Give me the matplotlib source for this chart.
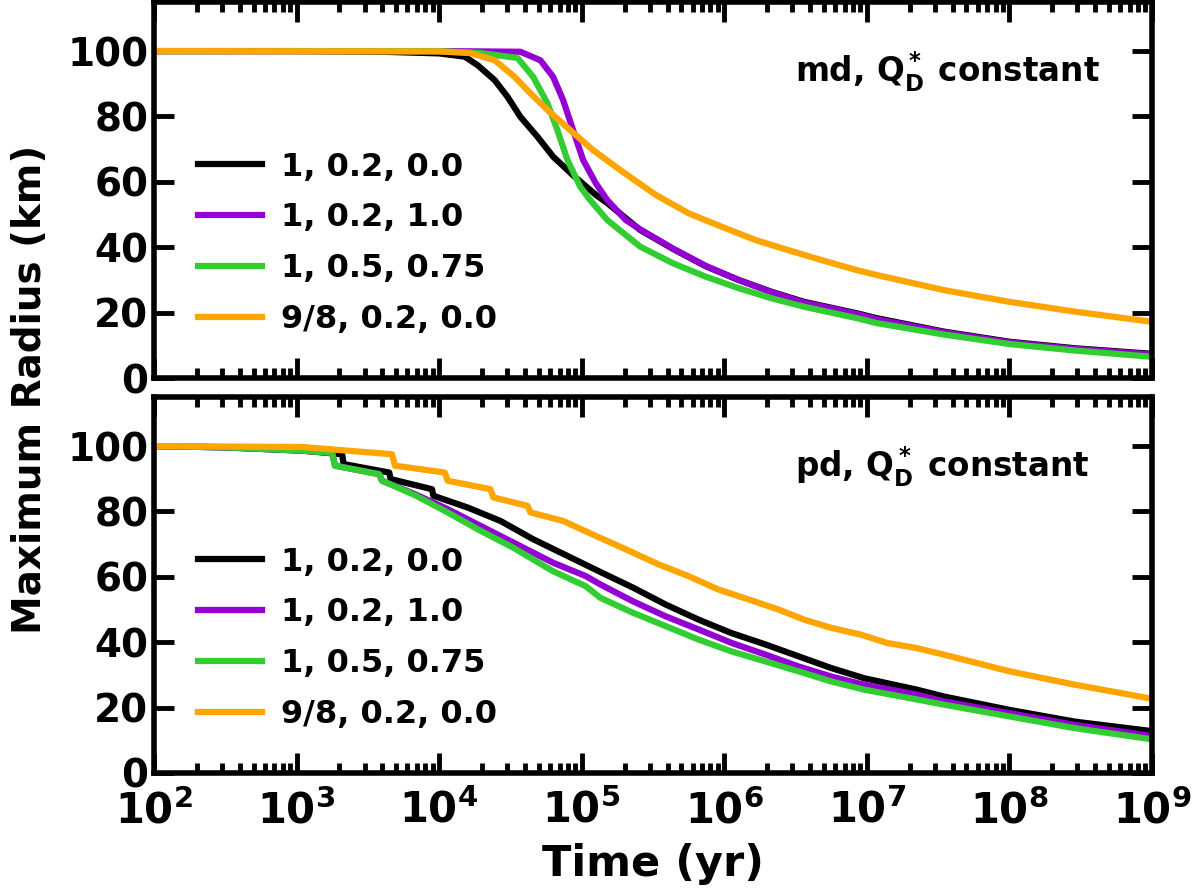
import numpy as np
import matplotlib
matplotlib.use("Agg")
import matplotlib.pyplot as plt
from matplotlib.ticker import LogLocator, NullFormatter, MultipleLocator

# --- style ---
plt.rcParams['font.family'] = ['DejaVu Sans']
plt.rcParams['font.weight'] = 'bold'
plt.rcParams['mathtext.fontset'] = 'dejavusans'
plt.rcParams['mathtext.default'] = 'bf'

labels = ['1, 0.2, 0.0', '1, 0.2, 1.0', '1, 0.5, 0.75', '9/8, 0.2, 0.0']
colors = ['black', '#9400d3', '#32cd32', '#ffa500']

# --- top panel (md): log10(time in yr), max radius (km) ---
md_black_t = [2.0, 3.0, 3.6, 4.0, 4.18, 4.27, 4.39, 4.48, 4.57, 4.69, 4.80, 4.94, 5.10, 5.18, 5.41, 5.64, 5.87, 6.10, 6.33, 6.56, 6.93, 7.07, 7.54, 8.0, 8.46, 9.0]
md_black_r = [100, 100, 99.8, 99.3, 98.3, 95.7, 91.1, 86.0, 79.9, 73.8, 67.7, 62.0, 56.0, 53.5, 45.3, 39.5, 34.2, 30.0, 26.4, 23.3, 19.8, 18.3, 14.2, 11.1, 9.1, 7.4]
md_purple_t = [2.0, 4.0, 4.57, 4.71, 4.80, 4.87, 4.94, 5.01, 5.10, 5.18, 5.31, 5.41, 5.64, 5.87, 6.10, 6.33, 6.56, 6.93, 7.07, 7.54, 8.0, 8.46, 9.0]
md_purple_r = [100, 100, 99.8, 97.2, 92.1, 85.0, 75.8, 66.7, 59.5, 54.4, 48.3, 45.5, 39.6, 34.3, 30.0, 26.3, 23.1, 19.6, 18.0, 14.0, 10.9, 8.9, 7.2]
md_green_t = [2.0, 4.0, 4.29, 4.55, 4.66, 4.76, 4.83, 4.90, 4.99, 5.06, 5.18, 5.41, 5.64, 5.87, 6.10, 6.33, 6.56, 6.93, 7.07, 7.54, 8.0, 8.46, 9.0]
md_green_r = [100, 100, 99.4, 97.9, 92.1, 84.0, 75.8, 66.7, 58.5, 54.4, 48.3, 40.2, 35.1, 31.0, 27.5, 24.4, 21.8, 18.3, 16.8, 13.3, 10.4, 8.4, 6.5]
md_orange_t = [2.0, 4.0, 4.22, 4.39, 4.53, 4.64, 4.76, 4.92, 5.08, 5.29, 5.52, 5.75, 5.98, 6.22, 6.45, 6.68, 6.93, 7.07, 7.54, 8.0, 8.46, 9.0]
md_orange_r = [100, 99.9, 99.4, 97.2, 92.1, 87.1, 82.0, 75.8, 69.7, 63.0, 56.0, 50.4, 46.3, 42.2, 39.1, 36.1, 33.0, 31.5, 26.9, 23.3, 20.3, 17.2]

# --- bottom panel (pd) ---
pd_black_t = [2.0, 2.5, 3.04, 3.32, 3.33, 3.65, 3.66, 3.95, 3.96, 4.20, 4.43, 4.66, 4.90, 5.13, 5.36, 5.59, 5.82, 6.05, 6.29, 6.52, 6.75, 6.98, 7.35, 7.54, 8.0, 8.46, 9.0]
pd_black_r = [100, 99.6, 98.6, 97.5, 94.5, 91.9, 89.9, 86.8, 84.8, 81.2, 77.1, 71.5, 66.4, 61.5, 56.7, 51.5, 46.9, 42.8, 39.3, 35.7, 32.1, 29.0, 25.5, 23.4, 19.3, 15.7, 12.8]
pd_purple_t = [2.0, 2.5, 3.04, 3.25, 3.27, 3.58, 3.60, 3.83, 4.06, 4.29, 4.52, 4.80, 5.03, 5.13, 5.36, 5.59, 5.82, 6.05, 6.29, 6.52, 6.75, 6.98, 7.35, 7.54, 8.0, 8.46, 9.0]
pd_purple_r = [100, 99.6, 98.6, 97.9, 94.0, 91.4, 89.4, 85.3, 80.7, 75.6, 70.5, 64.3, 60.2, 57.7, 52.5, 47.9, 43.9, 39.8, 36.2, 32.6, 29.5, 27.0, 24.0, 21.9, 18.3, 14.7, 11.3]
pd_green_t = [2.0, 2.5, 3.04, 3.25, 3.27, 3.58, 3.60, 3.83, 4.06, 4.29, 4.52, 4.80, 5.03, 5.13, 5.36, 5.59, 5.82, 6.05, 6.29, 6.52, 6.75, 6.98, 7.35, 7.54, 8.0, 8.46, 9.0]
pd_green_r = [100, 99.6, 98.6, 97.9, 94.0, 91.4, 89.4, 85.0, 79.7, 74.1, 68.9, 61.7, 57.1, 53.6, 49.0, 44.9, 40.8, 37.2, 34.1, 31.1, 28.0, 25.5, 22.5, 20.9, 17.3, 13.7, 10.3]
pd_orange_t = [2.0, 3.04, 3.67, 3.69, 4.04, 4.06, 4.36, 4.38, 4.62, 4.64, 4.87, 5.10, 5.31, 5.54, 5.75, 5.96, 6.17, 6.38, 6.56, 6.75, 6.96, 7.14, 7.35, 7.54, 8.0, 8.46, 9.0]
pd_orange_r = [100, 99.7, 97.5, 94.0, 91.9, 89.4, 86.8, 84.3, 81.7, 79.7, 77.1, 72.5, 68.4, 63.8, 60.2, 56.1, 53.1, 50.0, 46.9, 44.4, 42.3, 39.8, 38.2, 36.2, 31.1, 27.0, 22.7]

top_series = [(md_black_t, md_black_r), (md_purple_t, md_purple_r),
              (md_green_t, md_green_r), (md_orange_t, md_orange_r)]
bot_series = [(pd_black_t, pd_black_r), (pd_purple_t, pd_purple_r),
              (pd_green_t, pd_green_r), (pd_orange_t, pd_orange_r)]

fig = plt.figure(figsize=(11.98, 8.96), dpi=100)
ax1 = fig.add_axes([0.1285, 0.5781, 0.8331, 0.4196])
ax2 = fig.add_axes([0.1285, 0.1373, 0.8331, 0.4196])

for ax, series, note in [(ax1, top_series, r'md, $Q^*_D$ constant'),
                         (ax2, bot_series, r'pd, $Q^*_D$ constant')]:
    for (t, r), c, lab in zip(series, colors, labels):
        ax.plot(10 ** np.array(t), r, color=c, lw=4.5, label=lab)
    ax.set_xscale('log')
    ax.set_xlim(1e2, 1e9)
    ax.set_ylim(0, 115)
    ax.yaxis.set_major_locator(MultipleLocator(20))
    ax.xaxis.set_major_locator(LogLocator(base=10, numticks=20))
    ax.xaxis.set_minor_locator(LogLocator(base=10, subs=np.arange(2, 10), numticks=20))
    ax.xaxis.set_minor_formatter(NullFormatter())
    ax.tick_params(which='both', direction='in', top=True, right=True, width=3.5)
    ax.tick_params(which='major', length=14.5, pad=4)
    ax.tick_params(which='minor', length=7)
    ax.tick_params(axis='y', labelsize=28)
    ax.tick_params(axis='x', which='major', labelsize=30, pad=12)
    for s in ax.spines.values():
        s.set_linewidth(4)
    ax.text(0.642, 0.815, note, transform=ax.transAxes, fontsize=23.5,
            fontweight='bold', ha='left', va='center')
    ax.legend(loc='lower left', bbox_to_anchor=(0.015, 0.038), frameon=False,
              fontsize=23, handlelength=2.0, handletextpad=0.62, labelspacing=0.62)

ax1.tick_params(axis='x', labelbottom=False)
fig.text(0.025, 0.565, 'Maximum Radius (km)', rotation=90, fontsize=28,
         fontweight='bold', ha='center', va='center')
ax2.set_xlabel('Time (yr)', fontsize=31, fontweight='bold', labelpad=8)

plt.savefig('out.png', dpi=100)
